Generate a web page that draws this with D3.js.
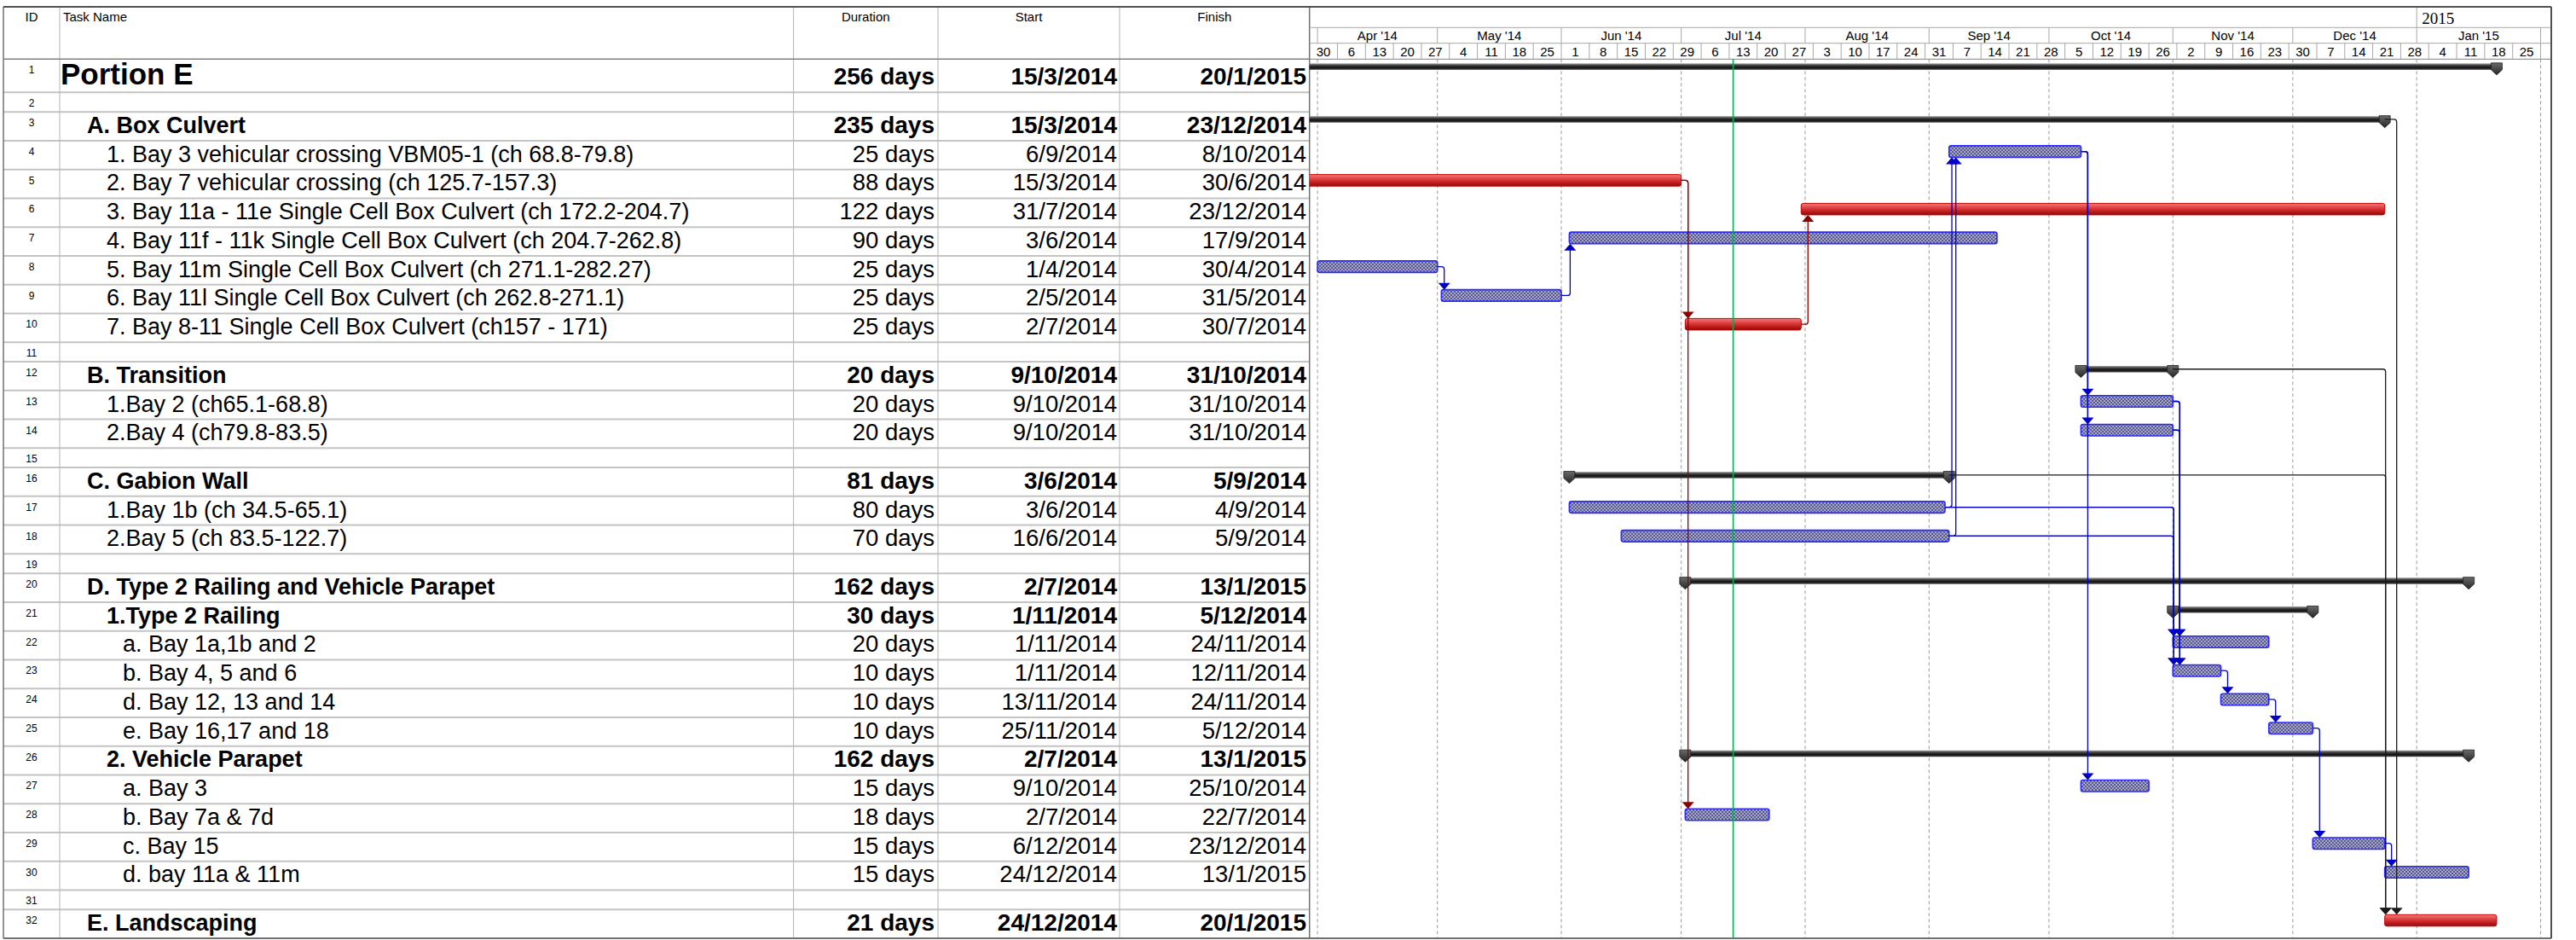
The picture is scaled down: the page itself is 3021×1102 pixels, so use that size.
<!DOCTYPE html>
<html><head><meta charset="utf-8">
<script src="https://cdn.jsdelivr.net/npm/d3@7"></script>
<style>body{margin:0;background:#fff}</style>
</head><body>
<svg id="c" width="3021" height="1102"></svg>
<script>
// ---------------- DATA ----------------
const ids = [1,2,3,4,5,6,7,8,9,10,11,12,13,14,15,16,17,18,19,20,21,22,23,24,25,26,27,28,29,30,31,32];
const taskNames = [
  "Portion E", "",
  "A. Box Culvert",
  "1. Bay 3 vehicular crossing VBM05-1 (ch 68.8-79.8)",
  "2. Bay 7 vehicular crossing (ch 125.7-157.3)",
  "3. Bay 11a - 11e Single Cell Box Culvert (ch 172.2-204.7)",
  "4. Bay 11f - 11k Single Cell Box Culvert (ch 204.7-262.8)",
  "5. Bay 11m Single Cell Box Culvert (ch 271.1-282.27)",
  "6. Bay 11l Single Cell Box Culvert (ch 262.8-271.1)",
  "7. Bay 8-11 Single Cell Box Culvert (ch157 - 171)",
  "",
  "B. Transition",
  "1.Bay 2 (ch65.1-68.8)",
  "2.Bay 4 (ch79.8-83.5)",
  "",
  "C. Gabion Wall",
  "1.Bay 1b (ch 34.5-65.1)",
  "2.Bay 5 (ch 83.5-122.7)",
  "",
  "D. Type 2 Railing and Vehicle Parapet",
  "1.Type 2 Railing",
  "a. Bay 1a,1b and 2",
  "b. Bay 4, 5 and 6",
  "d. Bay 12, 13 and 14",
  "e. Bay 16,17 and 18",
  "2. Vehicle Parapet",
  "a. Bay 3",
  "b. Bay 7a & 7d",
  "c. Bay 15",
  "d. bay 11a & 11m",
  "",
  "E. Landscaping"
];
const levels = [0,0,1,2,2,2,2,2,2,2,0,1,2,2,0,1,2,2,0,1,2,3,3,3,3,2,3,3,3,3,0,1];
const durations = ["256 days","","235 days","25 days","88 days","122 days","90 days","25 days","25 days","25 days","",
  "20 days","20 days","20 days","","81 days","80 days","70 days","","162 days","30 days","20 days","10 days","10 days","10 days",
  "162 days","15 days","18 days","15 days","15 days","","21 days"];
const startDates = ["15/3/2014","","15/3/2014","6/9/2014","15/3/2014","31/7/2014","3/6/2014","1/4/2014","2/5/2014","2/7/2014","",
  "9/10/2014","9/10/2014","9/10/2014","","3/6/2014","3/6/2014","16/6/2014","","2/7/2014","1/11/2014","1/11/2014","1/11/2014","13/11/2014","25/11/2014",
  "2/7/2014","9/10/2014","2/7/2014","6/12/2014","24/12/2014","","24/12/2014"];
const finishDates = ["20/1/2015","","23/12/2014","8/10/2014","30/6/2014","23/12/2014","17/9/2014","30/4/2014","31/5/2014","30/7/2014","",
  "31/10/2014","31/10/2014","31/10/2014","","5/9/2014","4/9/2014","5/9/2014","","13/1/2015","5/12/2014","24/11/2014","12/11/2014","24/11/2014","5/12/2014",
  "13/1/2015","25/10/2014","22/7/2014","23/12/2014","13/1/2015","","20/1/2015"];
// summary / task / critical / blank
const kinds = ["summary","blank","summary","task","critical","critical","task","task","task","critical","blank",
  "summary","task","task","blank","summary","task","task","blank","summary","summary","task","task","task","task",
  "summary","task","task","task","task","blank","critical"];
const boldRows = [1,3,12,16,20,21,26,32];
// dependency links: [predecessor ID, successor ID, style]
const links = [
  [8,9,"blue"],[9,7,"blue"],[5,10,"red"],[5,28,"red"],[10,6,"red"],
  [17,4,"blue"],[18,4,"blue"],[4,13,"blue"],[4,14,"blue"],[4,27,"blue"],
  [17,22,"blue"],[17,23,"blue"],[18,22,"blue"],[18,23,"blue"],
  [13,22,"blue"],[13,23,"blue"],[14,22,"blue"],[14,23,"blue"],
  [23,24,"blue"],[24,25,"blue"],[25,29,"blue"],[29,30,"blue"],
  [3,32,"black"],[12,32,"black"],[16,32,"black"]
];
const columnHeaders = ["ID","Task Name","Duration","Start","Finish"];
const monthLabels = ["Apr '14","May '14","Jun '14","Jul '14","Aug '14","Sep '14","Oct '14","Nov '14","Dec '14","Jan '15"];
const yearLabels = ["2015"];
const timelineStart = "30/3/2014";
const timelineEnd = "1/2/2015";
const statusDate = "14/7/2014";

// ---------------- LAYOUT ----------------
const parse = d3.utcParse("%d/%m/%Y");
const DAY = 86400000;
const TOP = 8, TIER1 = 32.3, TIER2 = 50.7, HEAD_B = 69.3, BOTTOM = 1100;
const LEFT = 4;
const colX = [LEFT, 70, 930.6, 1100, 1313, 1535.7];
const GX0 = 1535.7, GX1 = 2992;
const FONT = "'Liberation Sans', Arial, Helvetica, sans-serif";

const x = d3.scaleUtc().domain([parse(timelineStart), parse(timelineEnd)]).range([GX0, 2979.5]);

let yy = HEAD_B;
const rows = ids.map((id, i) => {
  const kind = kinds[i];
  const h = kind === "blank" ? 22.85 : (i === 0 ? 39 : 33.75);
  const r = { id, i, kind, top: yy, h, name: taskNames[i], level: levels[i],
    dur: durations[i], s: startDates[i], f: finishDates[i], bold: boldRows.includes(id) };
  if (kind !== "blank") {
    r.start = parse(startDates[i]);
    r.end = new Date(+parse(finishDates[i]) + DAY);
  }
  yy += h;
  return r;
});
const byId = new Map(rows.map(r => [r.id, r]));

const svg = d3.select("#c");
const defs = svg.append("defs");
const pat = defs.append("pattern").attr("id", "hatch").attr("width", 4).attr("height", 4)
  .attr("patternUnits", "userSpaceOnUse");
pat.append("rect").attr("width", 4).attr("height", 4).attr("fill", "#a6a6d4");
pat.append("path").attr("d", "M0,0L4,4M4,0L0,4").attr("stroke", "#5a5a84").attr("stroke-width", 1);
function vgrad(id, stops) {
  const g = defs.append("linearGradient").attr("id", id).attr("x1", 0).attr("y1", 0).attr("x2", 0).attr("y2", 1);
  stops.forEach(([o, c]) => g.append("stop").attr("offset", o).attr("stop-color", c));
}
vgrad("redg", [[0, "#f47c7c"], [0.35, "#e04646"], [0.7, "#c21c1c"], [1, "#8c0c0c"]]);
vgrad("sumg", [[0, "#a8a8a8"], [0.3, "#444"], [0.65, "#111"], [1, "#4a4a4a"]]);
vgrad("capg", [[0, "#6a6a6a"], [1, "#262626"]]);
defs.append("clipPath").attr("id", "gclip").append("rect")
  .attr("x", GX0).attr("y", HEAD_B).attr("width", GX1 - GX0).attr("height", BOTTOM - HEAD_B);

// ---------------- TABLE ----------------
const tbl = svg.append("g");
rows.forEach(r => {
  tbl.append("line").attr("x1", LEFT).attr("x2", GX0).attr("y1", r.top + r.h).attr("y2", r.top + r.h)
    .attr("stroke", "#c4c4c4").attr("stroke-width", 2);
});
colX.forEach((cx, k) => {
  tbl.append("line").attr("x1", cx).attr("x2", cx).attr("y1", TOP).attr("y2", BOTTOM)
    .attr("stroke", k === 0 || k === 5 ? "#707070" : "#b4b4b4").attr("stroke-width", k === 0 || k === 5 ? 1.5 : 1);
});
const hdrX = [(colX[0] + colX[1]) / 2, 74, (colX[2] + colX[3]) / 2, (colX[3] + colX[4]) / 2, (colX[4] + colX[5]) / 2];
columnHeaders.forEach((t, k) => {
  tbl.append("text").attr("x", hdrX[k]).attr("y", 25).attr("text-anchor", k === 1 ? "start" : "middle")
    .attr("font-family", FONT).attr("font-size", 15).text(t);
});
const indent = [71, 102, 125, 144];
rows.forEach(r => {
  tbl.append("text").attr("x", 37).attr("y", r.top + 17).attr("text-anchor", "middle")
    .attr("font-family", FONT).attr("font-size", 12).text(r.id);
  if (r.kind === "blank") return;
  const base = r.top + r.h - 9;
  const fw = r.bold ? "bold" : "normal";
  tbl.append("text").attr("x", indent[r.level]).attr("y", base)
    .attr("font-family", FONT).attr("font-weight", fw).attr("font-size", r.i === 0 ? 35 : 27).text(r.name);
  [[r.dur, 1096], [r.s, 1310], [r.f, 1532]].forEach(([t, xx]) => {
    tbl.append("text").attr("x", xx).attr("y", base).attr("text-anchor", "end")
      .attr("font-family", FONT).attr("font-weight", fw).attr("font-size", r.bold ? 28 : 27.5).text(t);
  });
});

// ---------------- TIMESCALE HEADER ----------------
const hd = svg.append("g");
[TIER1, TIER2, HEAD_B].forEach(yv => hd.append("line").attr("x1", GX0).attr("x2", GX1).attr("y1", yv).attr("y2", yv)
  .attr("stroke", yv === HEAD_B ? "#808080" : "#a8a8a8").attr("stroke-width", 1));
hd.append("line").attr("x1", LEFT).attr("x2", GX0).attr("y1", HEAD_B).attr("y2", HEAD_B).attr("stroke", "#808080").attr("stroke-width", 1.5);
const years = d3.utcYear.range(x.domain()[0], x.domain()[1]).filter(d => d > x.domain()[0]);
years.forEach((d, k) => {
  hd.append("line").attr("x1", x(d)).attr("x2", x(d)).attr("y1", TOP).attr("y2", TIER1).attr("stroke", "#a8a8a8");
  hd.append("text").attr("x", x(d) + 6).attr("y", 28).attr("font-family", "'Liberation Serif', 'Times New Roman', serif")
    .attr("font-size", 19).text(yearLabels[k]);
});
const months = d3.utcMonth.range(d3.utcMonth.ceil(x.domain()[0]), new Date(+x.domain()[1] + DAY));
months.forEach(d => hd.append("line").attr("x1", x(d)).attr("x2", x(d)).attr("y1", TIER1).attr("y2", TIER2).attr("stroke", "#a8a8a8"));
months.slice(0, monthLabels.length).forEach((d, k) => {
  const n = d3.utcMonth.offset(d, 1);
  hd.append("text").attr("x", (x(d) + x(n)) / 2).attr("y", 47).attr("text-anchor", "middle")
    .attr("font-family", FONT).attr("font-size", 15).text(monthLabels[k]);
});
const weeks = d3.utcSunday.range(x.domain()[0], x.domain()[1]);
const fmtDay = d3.utcFormat("%-d");
weeks.forEach(d => {
  const n = d3.utcDay.offset(d, 7);
  hd.append("line").attr("x1", x(n)).attr("x2", x(n)).attr("y1", TIER2).attr("y2", HEAD_B).attr("stroke", "#a8a8a8");
  hd.append("text").attr("x", (x(d) + x(n)) / 2).attr("y", 66).attr("text-anchor", "middle")
    .attr("font-family", FONT).attr("font-size", 15).text(fmtDay(d));
});

// ---------------- GANTT ----------------
const gg = svg.append("g").attr("clip-path", "url(#gclip)");
months.forEach(d => gg.append("line").attr("x1", x(d)).attr("x2", x(d)).attr("y1", HEAD_B).attr("y2", BOTTOM)
  .attr("stroke", "#9a9a9a").attr("stroke-dasharray", "4,3").attr("stroke-width", 1));

function capPath(cx, t) {
  return `M${cx - 6.5},${t}L${cx + 6.5},${t}L${cx + 6.5},${t + 8}L${cx},${t + 14}L${cx - 6.5},${t + 8}Z`;
}
rows.forEach(r => {
  if (r.kind === "blank") return;
  const x0 = x(r.start), x1 = x(r.end);
  if (r.kind === "summary") {
    const t = r.top + 5;
    gg.append("rect").attr("x", x0).attr("y", t).attr("width", x1 - x0).attr("height", 7.5).attr("fill", "url(#sumg)");
    [x0, x1].forEach(cx => {
      if (cx >= GX0) gg.append("path").attr("d", capPath(cx, t - 0.5)).attr("fill", "url(#capg)")
        .attr("stroke", "#1a1a1a").attr("stroke-width", 0.8);
    });
  } else {
    const t = r.top + 6;
    gg.append("rect").attr("x", x0).attr("y", t).attr("width", x1 - x0).attr("height", 13.5).attr("rx", 2.5)
      .attr("fill", r.kind === "critical" ? "url(#redg)" : "url(#hatch)")
      .attr("stroke", r.kind === "critical" ? "#c00000" : "#2a2aff").attr("stroke-width", r.kind === "critical" ? 1 : 1.6);
  }
});

const linkColor = { blue: "#0000c8", red: "#8b0000", black: "#1a1a1a" };
links.forEach(([p, s, style]) => {
  const pr = byId.get(p), sr = byId.get(s);
  const pEnd = x(pr.end), sStart = x(sr.start);
  const off = pr.kind === "summary" ? 14 : 8;
  const tx = Math.max(pEnd + off, sStart + 1);
  const sy = pr.kind === "summary" ? pr.top + 8.75 : pr.top + 12.75;
  const down = sr.top > pr.top;
  const ty = down ? sr.top + 6 : sr.top + 19.5;
  const rr = 3, dir = down ? 1 : -1;
  const vy = ty - dir * 7;
  const col = linkColor[style];
  gg.append("path").attr("d", `M${pEnd},${sy}H${tx - rr}Q${tx},${sy} ${tx},${sy + dir * rr}V${vy}`)
    .attr("fill", "none").attr("stroke", col).attr("stroke-width", 1.3);
  gg.append("path").attr("d", `M${tx - 7},${ty - dir * 8}L${tx + 7},${ty - dir * 8}L${tx},${ty}Z`).attr("fill", col);
});

const sx = x(parse(statusDate));
gg.append("line").attr("x1", sx).attr("x2", sx).attr("y1", HEAD_B).attr("y2", BOTTOM).attr("stroke", "#00b050").attr("stroke-width", 1.6);

svg.append("line").attr("x1", LEFT).attr("x2", GX1).attr("y1", TOP).attr("y2", TOP).attr("stroke", "#505050").attr("stroke-width", 2);
svg.append("line").attr("x1", LEFT).attr("x2", GX1).attr("y1", BOTTOM).attr("y2", BOTTOM).attr("stroke", "#707070").attr("stroke-width", 2);
svg.append("line").attr("x1", GX1).attr("x2", GX1).attr("y1", TOP).attr("y2", BOTTOM).attr("stroke", "#505050").attr("stroke-width", 2);
</script>
</body></html>
